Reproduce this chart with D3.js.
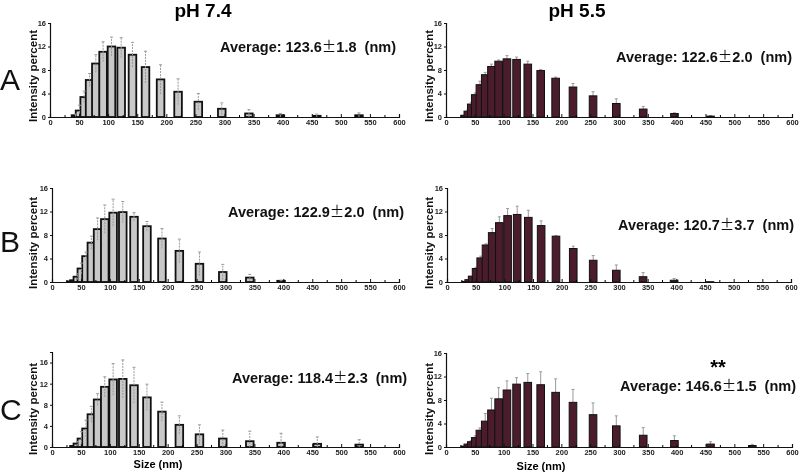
<!DOCTYPE html>
<html><head><meta charset="utf-8">
<script src="https://cdn.jsdelivr.net/npm/d3@7"></script>
<style>
body{margin:0;background:#fff;}
svg{will-change:transform;}
svg text{font-family:"Liberation Sans",Arial,sans-serif;}
</style></head>
<body><svg id="c" width="800" height="472"></svg>
<script>
// Size bins (nm)
const bins = [28.21, 32.67, 37.84, 43.82, 50.75, 58.77, 68.06, 78.82, 91.28, 105.7, 122.4, 141.8, 164.2, 190.1, 220.2, 255.0, 295.3, 342.0, 396.1, 458.7, 531.2];
const xTicks = [0,50,100,150,200,250,300,350,400,450,500,550,600];
const xMinor = [25,75,125,175,225,275,325,375,425,475,525,575];
const yTicks = [0,4,8,12,16];
const columnTitles = ["pH 7.4", "pH 5.5"];
const rowLabels = ["A", "B", "C"];
const averages = ["123.6", "122.6", "122.9", "120.7", "118.4", "146.6"];
const sds = ["1.8", "2.0", "2.0", "3.7", "2.3", "1.5"];
// Intensity percent per bin
const aL  = [0,0,0,0.3,1.1,3.4,6.3,9.1,11.1,12.0,11.8,10.6,8.5,6.4,4.3,2.6,1.4,0.6,0.3,0.2,0.3];
const aLe = [0,0,0,0.2,0.9,1.0,1.1,1.5,1.7,1.6,1.7,2.1,2.7,2.5,2.2,1.4,1.0,0.65,0.3,0.3,0.4];
const aR  = [0,0.3,1.0,2.2,3.8,5.5,7.2,8.6,9.5,9.9,9.8,9.0,7.9,6.6,5.1,3.6,2.3,1.35,0.6,0.15,0];
const aRe = [0,0,0.2,0.3,0.3,0.6,0.4,0.4,0.2,0.55,0.4,0.5,0.2,0.2,0.6,0.7,0.8,0.45,0.1,0.1,0];
const bL  = [0,0.1,0.3,0.9,2.3,4.4,6.7,9.0,10.7,11.8,11.9,11.1,9.5,7.4,5.3,3.1,1.7,0.75,0.2,0,0];
const bLe = [0,0,0,0.5,0.9,0.7,1.1,1.9,2.4,2.3,1.8,0.7,0.8,1.7,2.0,2.0,1.3,0.55,0.1,0,0];
const bR  = [0,0.1,0.4,1.0,2.3,4.1,6.3,8.4,10.1,11.3,11.5,11.0,9.6,7.8,5.7,3.7,2.0,0.9,0.3,0.05,0];
const bRe = [0,0,0,0,0.2,0.3,0.2,0.7,1.0,1.2,1.4,1.2,0.8,0.1,0.4,0.8,0.9,0.7,0.3,0,0];
const cL  = [0,0,0.2,0.65,1.6,3.5,6.2,9.0,11.4,12.8,12.9,11.7,9.4,6.7,4.2,2.4,1.6,1.1,0.8,0.6,0.45];
const cLe = [0,0,0,0.4,1.3,1.6,1.5,1.1,1.9,3.0,3.6,3.4,2.5,1.8,1.7,1.8,1.6,1.9,1.8,1.3,0.95];
const cR  = [0,0.15,0.5,0.9,1.6,2.85,4.4,6.3,8.2,9.7,10.7,11.0,10.6,9.3,7.6,5.5,3.6,2.0,1.1,0.5,0.25];
const cRe = [0,0,0,0.2,0.3,0.4,1.3,2.0,1.9,1.55,1.1,1.5,2.2,2.3,2.2,2.0,1.7,1.3,0.8,0.4,0.2];

const svg = d3.select("#c");
const layout = [
  {vals:aL, errs:aLe, x0:50,  x1:399, yb:117, yt:23,  ymax:16, dark:false, ax:220, ay:52,  lx:37,  ly:76},
  {vals:aR, errs:aRe, x0:446, x1:792, yb:117, yt:23,  ymax:16, dark:true,  ax:616, ay:62,  lx:433, ly:76},
  {vals:bL, errs:bLe, x0:52,  x1:399, yb:282, yt:188, ymax:16, dark:false, ax:228, ay:217, lx:37,  ly:243},
  {vals:bR, errs:bRe, x0:447, x1:791, yb:282, yt:188, ymax:16, dark:true,  ax:618, ay:230, lx:433, ly:243},
  {vals:cL, errs:cLe, x0:52,  x1:399, yb:447, yt:352, ymax:18, dark:false, ax:232, ay:383, lx:37,  ly:409},
  {vals:cR, errs:cRe, x0:446, x1:792, yb:447, yt:353, ymax:16, dark:true,  ax:620, ay:391, lx:433, ly:409}
];
const barW = 7.6;
layout.forEach((p,i) => {
  const x = d3.scaleLinear().domain([0,600]).range([p.x0,p.x1]);
  const y = d3.scaleLinear().domain([0,p.ymax]).range([p.yb,p.yt]);
  const g = svg.append("g");
  const data = bins.map((b,k)=>({b, v:p.vals[k], e:p.errs[k]})).filter(d=>d.v>0);
  const drawErr = (sel) => {
    const eg = sel.selectAll(".err").data(data.filter(d=>d.e>0)).join("g");
    eg.append("line").attr("x1",d=>x(d.b)).attr("x2",d=>x(d.b))
      .attr("y1",d=>y(Math.max(0,d.v-d.e))).attr("y2",d=>y(d.v+d.e))
      .attr("stroke","#9a9a9a").attr("stroke-width",1).attr("stroke-dasharray", p.dark?null:"2,1");
    eg.append("line").attr("x1",d=>x(d.b)-1.5).attr("x2",d=>x(d.b)+1.5)
      .attr("y1",d=>y(d.v+d.e)).attr("y2",d=>y(d.v+d.e))
      .attr("stroke","#9a9a9a").attr("stroke-width",1);
  };
  if (p.dark) drawErr(g.append("g"));
  g.append("g").selectAll("rect").data(data).join("rect")
    .attr("x",d=>x(d.b)-barW/2).attr("width",barW)
    .attr("y",d=>y(d.v)).attr("height",d=>y(0)-y(d.v))
    .attr("fill", p.dark ? "#4b1d2c" : "#c8c8c8")
    .attr("stroke","#111").attr("stroke-width", p.dark?1:1.8);
  if (!p.dark) drawErr(g.append("g"));
  // axes
  const xa = g.append("g").attr("transform",`translate(0,${p.yb})`)
    .call(d3.axisBottom(x).tickValues(xTicks).tickSize(-3).tickPadding(3).tickFormat(d3.format("d")));
  g.append("g").attr("transform",`translate(0,${p.yb})`)
    .call(d3.axisBottom(x).tickValues(xMinor).tickSize(-2).tickFormat(""))
    .select(".domain").remove();
  const ya = g.append("g").attr("transform",`translate(${p.x0},0)`)
    .call(d3.axisLeft(y).tickValues(yTicks).tickSize(2).tickPadding(2).tickFormat(d3.format("d")));
  [xa,ya].forEach(a=>{
    a.select(".domain").attr("stroke","#111").attr("stroke-width",1.2);
    a.selectAll(".tick line").attr("stroke","#111");
    a.selectAll(".tick text").attr("font-size",7.5).attr("font-weight","bold").attr("fill","#222");
  });
  // y label
  svg.append("text").attr("transform",`translate(${p.lx},${p.ly}) rotate(-90)`)
    .attr("text-anchor","middle").attr("font-size",11.5).attr("font-weight","bold").attr("fill","#111")
    .text("Intensity percent");
  // average text
  const t = svg.append("text").attr("x",p.ax).attr("y",p.ay).attr("font-size",14.5).attr("font-weight","bold").attr("fill","#111");
  t.append("tspan").text("Average: "+averages[i]);
  t.append("tspan").attr("font-family","'Noto Sans CJK SC'").attr("font-weight","normal").text("±");
  t.append("tspan").text(sds[i]+"\u00a0\u00a0(nm)");
});
// column titles
svg.append("text").attr("x",203).attr("y",17).attr("text-anchor","middle").attr("font-size",19).attr("font-weight","bold").text(columnTitles[0]);
svg.append("text").attr("x",577).attr("y",17).attr("text-anchor","middle").attr("font-size",19).attr("font-weight","bold").text(columnTitles[1]);
// row labels
[90,252,420].forEach((yy,k)=>svg.append("text").attr("x",0).attr("y",yy).attr("font-size",30).attr("fill","#111").text(rowLabels[k]));
// x axis titles
svg.append("text").attr("x",158).attr("y",468).attr("text-anchor","middle").attr("font-size",11).attr("font-weight","bold").text("Size (nm)");
svg.append("text").attr("x",541).attr("y",470).attr("text-anchor","middle").attr("font-size",11).attr("font-weight","bold").text("Size (nm)");
// significance
svg.append("text").attr("x",718).attr("y",374).attr("text-anchor","middle").attr("font-size",20).attr("font-weight","bold").text("**");
</script></body></html>
